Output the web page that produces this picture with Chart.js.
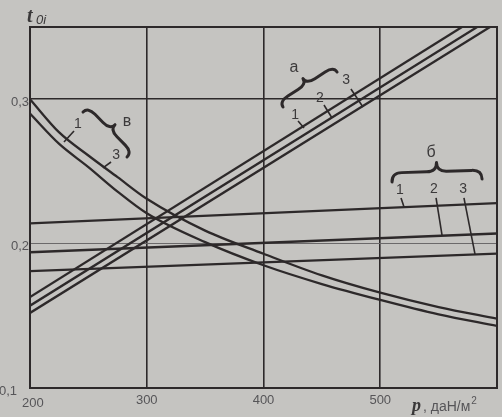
<!DOCTYPE html>
<html>
<head>
<meta charset="utf-8">
<script src="https://cdn.jsdelivr.net/npm/chart.js@4/dist/chart.umd.min.js"></script>
<style>
  html, body { margin: 0; padding: 0; background: #c5c4c1; }
  #wrap { width: 502px; height: 417px; }
</style>
</head>
<body>
<div id="wrap"><canvas id="c" width="502" height="417" style="width:502px;height:417px"></canvas></div>
<script>
// ---- data ----
const xTicks = [200, 300, 400, 500];
const xTickLabels = ['200', '300', '400', '500'];
const yTicks = [0.1, 0.2, 0.3];
const yTickLabels = ['0,1', '0,2', '0,3'];

// family "в" (decreasing curves)
const pV = [200, 225, 250, 275, 300, 350, 400, 450, 500, 550, 600];
const v1 = [0.300, 0.277, 0.261, 0.246, 0.231, 0.209, 0.193, 0.178, 0.166, 0.156, 0.148];
const v3 = [0.290, 0.269, 0.253, 0.236, 0.221, 0.201, 0.185, 0.172, 0.161, 0.151, 0.143];

// family "а" (straight rising lines, end where they meet the top frame)
const pA1 = [200, 570], a1 = [0.163, 0.35];
const pA2 = [200, 583], a2 = [0.157, 0.35];
const pA3 = [200, 594], a3 = [0.152, 0.35];

// family "б" (almost flat lines)
const pB = [200, 600];
const b1 = [0.214, 0.228];
const b2 = [0.194, 0.207];
const b3 = [0.181, 0.193];

// annotation texts
const familyLetters = ['а', 'б', 'в'];
const curveNumbers = ['1', '2', '3'];

// ---- annotation placement (data units) ----
const braces = [ // p1, p2 in data, depth in px
  { x1: 416.7, y1: 0.2946, x2: 463.0, y2: 0.3188, depth: 13 },
  { x1: 510.1, y1: 0.2427, x2: 587.2, y2: 0.2447, depth: 18 },
  { x1: 245.4, y1: 0.2911, x2: 283.1, y2: 0.2600, depth: 14 }
];
const letterPos = [
  { t: familyLetters[0], x: 426.1, y: 0.3216 },
  { t: familyLetters[1], x: 543.5, y: 0.2627 },
  { t: familyLetters[2], x: 283.1, y: 0.2842 }
];
const numberLabels = [
  { t: curveNumbers[0], x: 427.0, y: 0.2891, lx1: 429.6, ly1: 0.2849, lx2: 434.7, ly2: 0.2801 },
  { t: curveNumbers[1], x: 448.4, y: 0.3008, lx1: 451.8, ly1: 0.2960, lx2: 458.7, ly2: 0.2870 },
  { t: curveNumbers[2], x: 470.7, y: 0.3133, lx1: 474.9, ly1: 0.3071, lx2: 485.2, ly2: 0.2946 },
  { t: curveNumbers[0], x: 516.9, y: 0.2371, lx1: 517.8, ly1: 0.2316, lx2: 520.3, ly2: 0.2255 },
  { t: curveNumbers[1], x: 546.0, y: 0.2378, lx1: 547.8, ly1: 0.2316, lx2: 552.9, ly2: 0.2058 },
  { t: curveNumbers[2], x: 570.9, y: 0.2378, lx1: 571.7, ly1: 0.2316, lx2: 581.2, ly2: 0.1925 },
  { t: curveNumbers[0], x: 241.1, y: 0.2828, lx1: 237.7, ly1: 0.2780, lx2: 229.1, ly2: 0.2704 },
  { t: curveNumbers[2], x: 273.7, y: 0.2614, lx1: 269.4, ly1: 0.2565, lx2: 262.5, ly2: 0.2524 }
];

const INK = '#2d292a';
const TXT = '#565558';

function pts(xs, ys) { return xs.map((x, i) => ({ x: x, y: ys[i] })); }
function ds(xs, ys, curved) {
  return {
    data: pts(xs, ys),
    borderColor: INK,
    borderWidth: 2.3,
    pointRadius: 0,
    fill: false,
    tension: curved ? 0.4 : 0,
    cubicInterpolationMode: curved ? 'monotone' : 'default'
  };
}

const decor = {
  id: 'decor',
  afterDatasetsDraw(chart) {
    const ctx = chart.ctx;
    const xs = chart.scales.x, ys = chart.scales.y;
    const a = chart.chartArea;
    const X = v => xs.getPixelForValue(v);
    const Y = v => ys.getPixelForValue(v);
    ctx.save();
    // frame
    ctx.strokeStyle = INK;
    ctx.lineWidth = 2;
    ctx.strokeRect(a.left, a.top, a.right - a.left, a.bottom - a.top);

    // braces
    ctx.lineWidth = 3;
    ctx.lineCap = 'round';
    ctx.lineJoin = 'round';
    braces.forEach(b => {
      const p1x = X(b.x1), p1y = Y(b.y1), p2x = X(b.x2), p2y = Y(b.y2);
      const dx = p2x - p1x, dy = p2y - p1y;
      const L = Math.hypot(dx, dy);
      const ux = dx / L, uy = dy / L;
      const nx = uy, ny = -ux;
      const h = b.depth;
      const P = (u, v) => [p1x + ux * u + nx * v, p1y + uy * u + ny * v];
      const q = Math.min(L * 0.18, 10);
      ctx.beginPath();
      let p = P(0, 0); ctx.moveTo(p[0], p[1]);
      let c = P(0, h * 0.5), e = P(q, h * 0.5);
      ctx.quadraticCurveTo(c[0], c[1], e[0], e[1]);
      e = P(L / 2 - q, h * 0.5); ctx.lineTo(e[0], e[1]);
      c = P(L / 2, h * 0.5); e = P(L / 2, h);
      ctx.quadraticCurveTo(c[0], c[1], e[0], e[1]);
      c = P(L / 2, h * 0.5); e = P(L / 2 + q, h * 0.5);
      ctx.quadraticCurveTo(c[0], c[1], e[0], e[1]);
      e = P(L - q, h * 0.5); ctx.lineTo(e[0], e[1]);
      c = P(L, h * 0.5); e = P(L, 0);
      ctx.quadraticCurveTo(c[0], c[1], e[0], e[1]);
      ctx.stroke();
    });

    // leaders and numbers
    ctx.lineWidth = 1.6;
    ctx.lineCap = 'butt';
    numberLabels.forEach(n => {
      ctx.beginPath();
      ctx.moveTo(X(n.lx1), Y(n.ly1));
      ctx.lineTo(X(n.lx2), Y(n.ly2));
      ctx.stroke();
    });
    ctx.fillStyle = '#3c3a3b';
    ctx.font = '14px "Liberation Sans", Arial, sans-serif';
    ctx.textAlign = 'center';
    ctx.textBaseline = 'middle';
    numberLabels.forEach(n => ctx.fillText(n.t, X(n.x), Y(n.y)));
    ctx.font = '16px "Liberation Sans", Arial, sans-serif';
    letterPos.forEach(l => ctx.fillText(l.t, X(l.x), Y(l.y)));

    // tick labels
    ctx.fillStyle = TXT;
    ctx.font = '13px "Liberation Sans", Arial, sans-serif';
    ctx.textBaseline = 'alphabetic';
    xTicks.forEach((v, i) => {
      if (i === 0) { ctx.textAlign = 'left'; ctx.fillText(xTickLabels[i], X(v) - 8, a.bottom + 19); }
      else { ctx.textAlign = 'center'; ctx.fillText(xTickLabels[i], X(v), a.bottom + 16); }
    });
    ctx.textAlign = 'right';
    ctx.textBaseline = 'middle';
    yTicks.forEach((v, i) => {
      const off = i === 0 ? 13 : 1;
      ctx.fillText(yTickLabels[i], a.left - off, Y(v) + 3);
    });

    // axis titles
    ctx.fillStyle = '#3a3839';
    ctx.textAlign = 'left';
    ctx.textBaseline = 'alphabetic';
    ctx.font = 'italic bold 20px "Liberation Serif", serif';
    ctx.fillText('t', a.left - 3, a.top - 5);
    ctx.font = 'italic 13px "Liberation Sans", Arial, sans-serif';
    ctx.fillText('0i', a.left + 6, a.top - 3);

    ctx.font = 'italic bold 18px "Liberation Serif", serif';
    ctx.fillText('p', a.right - 85, a.bottom + 23);
    ctx.fillStyle = TXT;
    ctx.font = '14px "Liberation Sans", Arial, sans-serif';
    ctx.fillText(', даН/м', a.right - 74, a.bottom + 23);
    const w = ctx.measureText(', даН/м').width;
    ctx.font = '10px "Liberation Sans", Arial, sans-serif';
    ctx.fillText('2', a.right - 74 + w + 1, a.bottom + 16);
    ctx.restore();
  }
};

new Chart(document.getElementById('c'), {
  type: 'line',
  data: {
    datasets: [
      ds(pA1, a1, false), ds(pA2, a2, false), ds(pA3, a3, false),
      ds(pB, b1, false), ds(pB, b2, false), ds(pB, b3, false),
      ds(pV, v1, true), ds(pV, v3, true)
    ]
  },
  options: {
    responsive: false,
    devicePixelRatio: 1,
    animation: false,
    events: [],
    layout: { padding: { left: 30, right: 5, top: 27, bottom: 29 } },
    plugins: { legend: { display: false }, tooltip: { enabled: false } },
    scales: {
      x: {
        type: 'linear', min: 200, max: 600,
        afterBuildTicks: s => { s.ticks = xTicks.map(v => ({ value: v })); },
        afterFit: s => { s.height = 0; },
        ticks: { display: false },
        border: { display: false },
        grid: { color: INK, lineWidth: 1.6, drawTicks: false }
      },
      y: {
        type: 'linear', min: 0.1, max: 0.35,
        afterBuildTicks: s => { s.ticks = yTicks.map(v => ({ value: v })); },
        afterFit: s => { s.width = 0; },
        ticks: { display: false },
        border: { display: false },
        grid: {
          drawTicks: false,
          color: c => (c.tick && Math.abs(c.tick.value - 0.2) < 1e-6) ? '#6b696a' : INK,
          lineWidth: c => (c.tick && Math.abs(c.tick.value - 0.2) < 1e-6) ? 1 : 1.6
        }
      }
    }
  },
  plugins: [decor]
});
</script>
</body>
</html>
